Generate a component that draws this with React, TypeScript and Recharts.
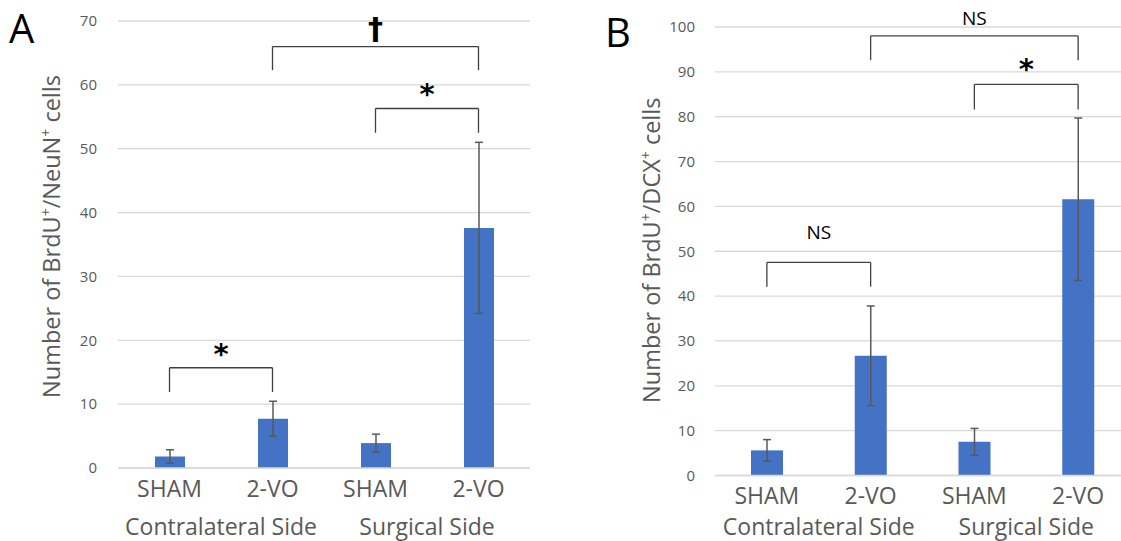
import React from "react";
import {
  BarChart,
  Bar,
  XAxis,
  YAxis,
  CartesianGrid,
  ErrorBar,
  ReferenceLine,
} from "recharts";

// ---------- data ----------
const ids = ["c-sham", "c-2vo", "s-sham", "s-2vo"];
const categories = ["SHAM", "2-VO", "SHAM", "2-VO"];
const sides = ["Contralateral Side", "Contralateral Side", "Surgical Side", "Surgical Side"];

const neunMeans = [1.8, 7.7, 3.9, 37.6];
const neunErrs = [1.05, 2.75, 1.4, 13.4];
const neunTicks = [0, 10, 20, 30, 40, 50, 60, 70];

const dcxMeans = [5.6, 26.7, 7.5, 61.6];
const dcxErrs = [2.4, 11.1, 3.0, 18.1];
const dcxTicks = [0, 10, 20, 30, 40, 50, 60, 70, 80, 90, 100];

const neunBrackets = [
  { from: "c-sham", to: "c-2vo", top: 15.7, leg: 11.9, mark: "*" },
  { from: "c-2vo", to: "s-2vo", top: 66.0, leg: 62.3, mark: "†" },
  { from: "s-sham", to: "s-2vo", top: 56.3, leg: 52.5, mark: "*" },
];
const dcxBrackets = [
  { from: "c-sham", to: "c-2vo", top: 47.5, leg: 42.1, mark: "NS" },
  { from: "c-2vo", to: "s-2vo", top: 98.0, leg: 92.6, mark: "NS" },
  { from: "s-sham", to: "s-2vo", top: 87.2, leg: 81.6, mark: "*" },
];

const neunData = ids.map((id, i) => ({ id, value: neunMeans[i], err: neunErrs[i] }));
const dcxData = ids.map((id, i) => ({ id, value: dcxMeans[i], err: dcxErrs[i] }));

// ---------- styles ----------
const FONT = "'Open Sans', sans-serif";
const GRAY = "#595959";
const BAR = "#4472C4";
const GRID = "#d9d9d9";
const BRACKET = "#404040";

function CatTick(props: any) {
  const { x, y, payload, catDy, sideDy } = props;
  const idx = ids.indexOf(payload.value);
  const off = payload.offset ?? 0;
  return (
    <g>
      <text x={x} y={y + catDy} textAnchor="middle" fontSize={23} fill={GRAY} fontFamily={FONT}>
        {categories[idx]}
      </text>
      {idx % 2 === 0 ? (
        <text x={x + off} y={y + sideDy} textAnchor="middle" fontSize={23} fill={GRAY} fontFamily={FONT}>
          {sides[idx]}
        </text>
      ) : null}
    </g>
  );
}

function YTitle(props: any) {
  const { viewBox, cxOff, cyOff, marker } = props;
  const vb = viewBox || { x: 0, y: 0, width: 0, height: 0 };
  const cx = vb.x + cxOff;
  const cy = vb.y + vb.height / 2 + cyOff;
  return (
    <text
      x={cx}
      y={cy}
      transform={`rotate(-90, ${cx}, ${cy})`}
      textAnchor="middle"
      fontSize={23.5}
      fill={GRAY}
      fontFamily={FONT}
      dy={8}
    >
      Number of BrdU
      <tspan fontSize={14} dy={-9}>+</tspan>
      <tspan dy={9}>/{marker}</tspan>
      <tspan fontSize={14} dy={-9}>+</tspan>
      <tspan dy={9}> cells</tspan>
    </text>
  );
}

function markLabel(mark: string) {
  if (mark === "NS") {
    return { value: mark, position: "top" as const, offset: 23, fill: "#000", fontSize: 19, fontFamily: FONT };
  }
  if (mark === "†") {
    return { value: mark, position: "top" as const, offset: 8, fill: "#000", fontSize: 30, fontWeight: "bold", fontFamily: "'DejaVu Sans', sans-serif" };
  }
  return { value: mark, position: "top" as const, offset: 4, fill: "#000", fontSize: 29, fontWeight: "bold", fontFamily: "'DejaVu Sans', sans-serif" };
}

function renderBrackets(brackets: typeof neunBrackets, offsets: number[]) {
  const out: any[] = [];
  brackets.forEach((b, i) => {
    const lab: any = markLabel(b.mark);
    if (offsets[i] !== undefined) lab.offset = offsets[i];
    out.push(
      <ReferenceLine
        key={`h${i}`}
        segment={[{ x: b.from, y: b.top }, { x: b.to, y: b.top }]}
        stroke={BRACKET}
        strokeWidth={1.3}
        label={lab}
        ifOverflow="visible"
      />
    );
    out.push(
      <ReferenceLine
        key={`l${i}`}
        segment={[{ x: b.from, y: b.leg }, { x: b.from, y: b.top }]}
        stroke={BRACKET}
        strokeWidth={1.3}
        ifOverflow="visible"
      />
    );
    out.push(
      <ReferenceLine
        key={`r${i}`}
        segment={[{ x: b.to, y: b.leg }, { x: b.to, y: b.top }]}
        stroke={BRACKET}
        strokeWidth={1.3}
        ifOverflow="visible"
      />
    );
  });
  return out;
}

function PanelLetter({ text, left, top }: { text: string; left: number; top: number }) {
  return (
    <div
      style={{
        position: "absolute",
        left,
        top,
        fontSize: 40,
        lineHeight: "40px",
        fontFamily: FONT,
        color: "#000",
      }}
    >
      {text}
    </div>
  );
}

export default function App() {
  return (
    <div
      style={{
        position: "absolute",
        left: 0,
        top: 0,
        width: 1121,
        height: 541,
        overflow: "hidden",
        background: "#fff",
        fontFamily: FONT,
      }}
    >
      <div style={{ position: "absolute", left: 0, top: 0 }}>
        <BarChart width={560} height={541} data={neunData} margin={{ top: 21, right: 30, bottom: 0, left: 0 }}>
          <CartesianGrid vertical={false} stroke={GRID} strokeWidth={1.3} />
          <XAxis
            dataKey="id"
            height={73}
            axisLine={{ stroke: GRID, strokeWidth: 1.3 }}
            tickLine={false}
            interval={0}
            tick={<CatTick catDy={21} sideDy={58.5} />}
          />
          <YAxis
            width={118}
            domain={[0, 70]}
            ticks={neunTicks}
            axisLine={false}
            tickLine={false}
            tickMargin={15}
            tick={{ fill: GRAY, fontSize: 15, fontFamily: FONT }}
            label={<YTitle cxOff={52} cyOff={-8} marker="NeuN" />}
          />
          <Bar dataKey="value" fill={BAR} barSize={30} isAnimationActive={false}>
            <ErrorBar dataKey="err" width={4} stroke={GRAY} strokeWidth={1.5} direction="y" />
          </Bar>
          {renderBrackets(neunBrackets, [])}
        </BarChart>
      </div>
      <div style={{ position: "absolute", left: 600, top: 0 }}>
        <BarChart width={540} height={541} data={dcxData} margin={{ top: 27, right: 10, bottom: 0, left: 0 }}>
          <CartesianGrid vertical={false} stroke={GRID} strokeWidth={1.3} />
          <XAxis
            dataKey="id"
            height={65.5}
            axisLine={{ stroke: GRID, strokeWidth: 1.3 }}
            tickLine={false}
            interval={0}
            tick={<CatTick catDy={20} sideDy={51.5} />}
          />
          <YAxis
            width={115}
            domain={[0, 100]}
            ticks={dcxTicks}
            axisLine={false}
            tickLine={false}
            tickMargin={14}
            tick={{ fill: GRAY, fontSize: 15, fontFamily: FONT }}
            label={<YTitle cxOff={52} cyOff={-1} marker="DCX" />}
          />
          <Bar dataKey="value" fill={BAR} barSize={32} isAnimationActive={false}>
            <ErrorBar dataKey="err" width={4} stroke={GRAY} strokeWidth={1.5} direction="y" />
          </Bar>
          {renderBrackets(dcxBrackets, [23, 10.7, 5])}
        </BarChart>
      </div>
      <PanelLetter text="A" left={9} top={8} />
      <PanelLetter text="B" left={605} top={12} />
    </div>
  );
}
